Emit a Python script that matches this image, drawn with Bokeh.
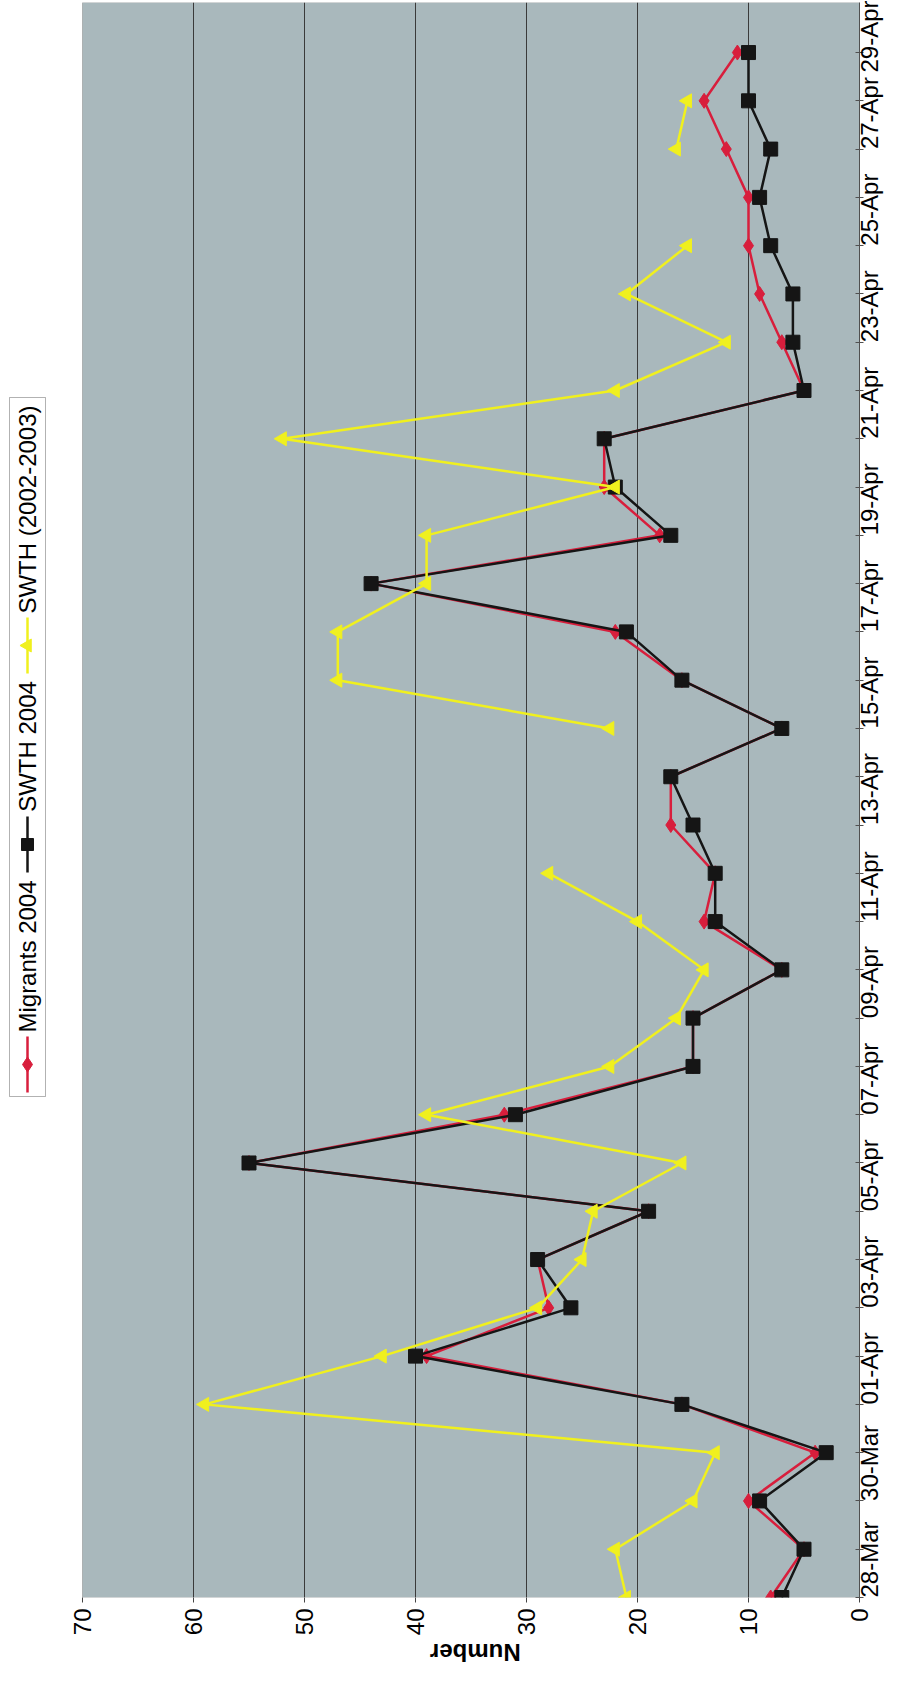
import math
from bokeh.plotting import figure
from bokeh.models import Range1d, FixedTicker, BoxAnnotation
from bokeh.core.properties import value
from bokeh.embed import file_html
from bokeh.resources import INLINE

nan = float("nan")

# ---------------- data ----------------
dates = ["28-Mar", "29-Mar", "30-Mar", "31-Mar", "01-Apr", "02-Apr", "03-Apr", "04-Apr",
         "05-Apr", "06-Apr", "07-Apr", "08-Apr", "09-Apr", "10-Apr", "11-Apr", "12-Apr",
         "13-Apr", "14-Apr", "15-Apr", "16-Apr", "17-Apr", "18-Apr", "19-Apr", "20-Apr",
         "21-Apr", "22-Apr", "23-Apr", "24-Apr", "25-Apr", "26-Apr", "27-Apr", "28-Apr",
         "29-Apr"]
migrants_2004 = [8, 5, 10, 4, 16, 39, 28, 29, 19, 55, 32, 15, 15, 7, 14, 13,
                 17, 17, 7, 16, 22, 44, 18, 23, 23, 5, 7, 9, 10, 10, 12, 14, 11]
swth_2004 = [7, 5, 9, 3, 16, 40, 26, 29, 19, 55, 31, 15, 15, 7, 13, 13,
             15, 17, 7, 16, 21, 44, 17, 22, 23, 5, 6, 6, 8, 9, 8, 10, 10]
swth_2002_2003 = [21, 22, 15, 13, 59, 43, 29, 25, 24, 16, 39, 22.5, 16.5, 14, 20, 28,
                  nan, nan, 22.5, 47, 47, 39, 39, 22, 52, 22, 12, 21, 15.5, nan, 16.5, 15.5, nan]
number_ticks = [0, 10, 20, 30, 40, 50, 60, 70]
series_names = ["Migrants 2004", "SWTH 2004", "SWTH (2002-2003)"]
axis_title = "Number"

# ---------------- styles ----------------
FONT_NAME = "Liberation Sans"
FONT = value(FONT_NAME)
RED = "#D81E3C"
BLACK = "#151515"
YELLOW = "#F0F01E"
PLOT_BG = "#A9B8BC"
GRID = "#3A3A3A"

W, H = 914, 1691
MB_TOP, MB_RIGHT, MB_BOTTOM = 2, 55, 94
frame_w = W - MB_RIGHT
frame_h = H - MB_BOTTOM - MB_TOP
xpx = 11.1
X_LEFT, X_RIGHT = frame_w / xpx, 0
ypx = 48.28
Y_TOP = frame_h / ypx

days = list(range(len(dates)))

p = figure(width=W, height=H, output_backend="svg", toolbar_location=None,
           x_range=Range1d(X_LEFT, X_RIGHT), y_range=Range1d(0, Y_TOP),
           y_axis_location="right", min_border_left=0, min_border_top=MB_TOP,
           min_border_right=MB_RIGHT, min_border_bottom=MB_BOTTOM)
p.outline_line_color = None
p.background_fill_color = "white"
p.border_fill_color = "white"

# plot area
p.add_layout(BoxAnnotation(left=0, right=70, fill_color=PLOT_BG, fill_alpha=1,
                           line_color="#505050", line_width=1, level="image"))

# grid
p.xgrid.ticker = FixedTicker(ticks=number_ticks[1:-1])
p.xgrid.grid_line_color = GRID
p.xgrid.grid_line_width = 1
p.ygrid.grid_line_color = None

# number axis (bottom)
xa = p.xaxis[0]
xa.ticker = FixedTicker(ticks=number_ticks)
xa.axis_line_color = None
xa.major_tick_out = 5
xa.major_tick_in = 0
xa.major_tick_line_color = "#444444"
xa.minor_tick_line_color = None
xa.major_label_orientation = math.pi / 2
xa.major_label_text_font = FONT_NAME
xa.major_label_text_font_size = "24px"
xa.major_label_text_color = "black"
xa.major_label_standoff = 6
xa.axis_label = axis_title
xa.axis_label_text_font = FONT_NAME
xa.axis_label_text_font_size = "24px"
xa.axis_label_text_font_style = "bold"
xa.axis_label_text_color = "black"
xa.axis_label_standoff = 14
try:
    xa.axis_label_orientation = math.pi
except Exception:
    pass

# date axis (right)
ya = p.yaxis[0]
ya.ticker = FixedTicker(ticks=days)
ya.major_label_overrides = {d: (dates[d] if d % 2 == 0 else "") for d in days}
ya.axis_line_color = "#505050"
ya.major_tick_in = 4
ya.major_tick_out = 4
ya.major_tick_line_color = "#505050"
ya.minor_tick_line_color = None
ya.major_label_orientation = math.pi / 2
ya.major_label_text_font = FONT_NAME
ya.major_label_text_font_size = "24px"
ya.major_label_text_color = "black"
ya.major_label_standoff = 6

# series (drawn in Excel order)
p.line(migrants_2004, days, line_color=RED, line_width=2.5)
p.scatter(migrants_2004, days, marker="diamond", size=15, fill_color=RED, line_color=RED)
p.line(swth_2004, days, line_color=BLACK, line_width=2.5)
p.scatter(swth_2004, days, marker="square", size=14, fill_color=BLACK, line_color=BLACK)
p.line(swth_2002_2003, days, line_color=YELLOW, line_width=2.5)
p.scatter(swth_2002_2003, days, marker="triangle", size=14, angle=math.pi / 2,
          fill_color=YELLOW, line_color=YELLOW)

# ---------------- manual rotated legend (page pixel layout -> data) ----------------
def X(page_x):
    return X_LEFT - page_x / xpx

def Y(page_y):
    return (MB_TOP + frame_h - page_y) / ypx

p.add_layout(BoxAnnotation(left=X(9), right=X(45), top=Y(397), bottom=Y(1096),
                           fill_color=None, line_color="black", line_width=1,
                           level="underlay"))
lx = X(27)
items = [
    (series_names[0], RED, "diamond", 15, 0, (1036, 1092), 1064, 956),
    (series_names[1], BLACK, "square", 12, 0, (816, 872), 844, 746),
    (series_names[2], YELLOW, "triangle", 13, math.pi / 2, (617, 673), 645, 509),
]
for name, col, mk, sz, ang, (s0, s1), mpos, tpos in items:
    p.segment(x0=[lx], y0=[Y(s0)], x1=[lx], y1=[Y(s1)], line_color=col, line_width=2.5)
    p.scatter([lx], [Y(mpos)], marker=mk, size=sz, angle=ang, fill_color=col, line_color=col)
    p.text([lx], [Y(tpos)], text=[name], angle=math.pi / 2, text_font=FONT,
           text_font_size="24px", text_align="center", text_baseline="middle",
           text_color="black")

open("out.html", "w").write(file_html(p, INLINE))
